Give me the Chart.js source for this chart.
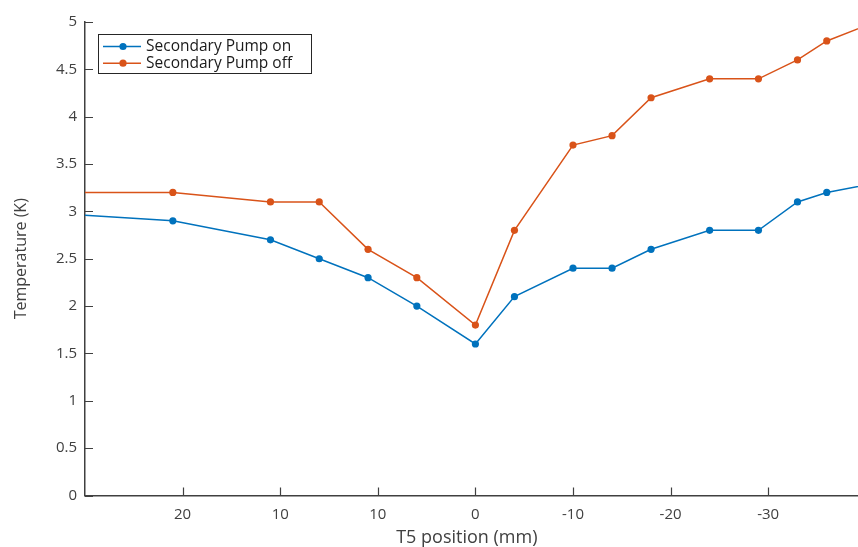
<!DOCTYPE html>
<html>
<head>
<meta charset="utf-8">
<script src="https://cdn.jsdelivr.net/npm/chart.js@4/dist/chart.umd.min.js"></script>
<style>
  html, body { margin: 0; padding: 0; background: #fff; overflow: hidden; }
  #wrap { width: 858px; height: 547px; overflow: hidden; }
</style>
</head>
<body>
<div id="wrap"><canvas id="chart" width="858" height="560"></canvas></div>
<script>
// DATA (outer points sit just outside the visible range, lines run to the edges)
const positions = [46.5, 31, 21, 16, 11, 6, 0, -4, -10, -14, -18, -24, -29, -33, -36, -41];
const pumpOn = [3.0, 2.9, 2.7, 2.5, 2.3, 2.0, 1.6, 2.1, 2.4, 2.4, 2.6, 2.8, 2.8, 3.1, 3.2, 3.3];
const pumpOff = [3.2, 3.2, 3.1, 3.1, 2.6, 2.3, 1.8, 2.8, 3.7, 3.8, 4.2, 4.4, 4.4, 4.6, 4.8, 5.0];
const xTicks = [30, 20, 10, 0, -10, -20, -30];
const xTickLabels = ["20", "10", "10", "0", "-10", "-20", "-30"];
const seriesNames = ["Secondary Pump on", "Secondary Pump off"];

const FONT = "'Open Sans', sans-serif";
const AXIS = "#404040";

const toPoints = (ys) => positions.map((x, i) => ({ x: x, y: ys[i] }));

// short ticks pointing into the plot, matlab style
const innerTicks = {
  id: "innerTicks",
  afterDraw(chart) {
    const c = chart.ctx;
    const xs = chart.scales.x, ys = chart.scales.y;
    c.save();
    c.strokeStyle = AXIS;
    c.lineWidth = 1.2;
    c.beginPath();
    xs.ticks.forEach((t) => {
      const px = Math.round(xs.getPixelForValue(t.value)) + 0.5;
      c.moveTo(px, ys.bottom);
      c.lineTo(px, ys.bottom - 8);
    });
    ys.ticks.forEach((t) => {
      const py = Math.round(ys.getPixelForValue(t.value)) + 0.5;
      c.moveTo(xs.left, py);
      c.lineTo(xs.left + 8, py);
    });
    c.stroke();
    c.restore();
  }
};

// boxed legend in the upper left corner
const boxLegend = {
  id: "boxLegend",
  afterDraw(chart) {
    const c = chart.ctx;
    const x0 = 98, y0 = 34.5, w = 213, h = 39;
    c.save();
    c.fillStyle = "#fff";
    c.fillRect(x0, y0, w, h);
    c.strokeStyle = "#262626";
    c.lineWidth = 1;
    c.strokeRect(x0 + 0.5, y0, w, h);
    c.font = "15.5px " + FONT;
    c.textBaseline = "middle";
    chart.data.datasets.forEach((ds, i) => {
      const y = y0 + 12 + i * 16.7;
      c.strokeStyle = ds.borderColor;
      c.lineWidth = 1.5;
      c.beginPath();
      c.moveTo(x0 + 5, y);
      c.lineTo(x0 + 43, y);
      c.stroke();
      c.fillStyle = ds.borderColor;
      c.beginPath();
      c.arc(x0 + 25, y, 3.6, 0, Math.PI * 2);
      c.fill();
      c.fillStyle = "#1a1a1a";
      c.fillText(ds.label, x0 + 48, y + 0.5);
    });
    c.restore();
  }
};

const ctx = document.getElementById("chart").getContext("2d");

const chart = new Chart(ctx, {
  type: "line",
  data: {
    datasets: [
      {
        label: seriesNames[0],
        data: toPoints(pumpOn),
        borderColor: "#0072BD",
        backgroundColor: "#0072BD",
        borderWidth: 1.5,
        pointRadius: 3.6,
        pointBorderWidth: 0,
        tension: 0
      },
      {
        label: seriesNames[1],
        data: toPoints(pumpOff),
        borderColor: "#D95319",
        backgroundColor: "#D95319",
        borderWidth: 1.5,
        pointRadius: 3.6,
        pointBorderWidth: 0,
        tension: 0
      }
    ]
  },
  options: {
    responsive: false,
    animation: false,
    layout: { autoPadding: false, padding: { top: 22, right: 0, left: 0, bottom: 0 } },
    plugins: { legend: { display: false }, tooltip: { enabled: false } },
    scales: {
      x: {
        type: "linear",
        reverse: true,
        min: -39.2,
        max: 40,
        afterBuildTicks: (s) => { s.ticks = xTicks.map((v) => ({ value: v })); },
        afterFit: (s) => { s.height = 64.5; s.paddingLeft = 0; s.paddingRight = 0; },
        grid: { drawOnChartArea: false, drawTicks: false },
        border: { color: AXIS, width: 1.5 },
        ticks: {
          autoSkip: false,
          maxRotation: 0,
          padding: 10,
          color: AXIS,
          font: { family: FONT, size: 15 },
          callback: (v) => xTickLabels[xTicks.indexOf(v)]
        },
        title: {
          display: true,
          text: "T5 position (mm)  ",
          color: AXIS,
          font: { family: FONT, size: 18 },
          padding: { top: 11, bottom: 11 }
        }
      },
      y: {
        min: 0,
        max: 5,
        afterFit: (s) => { s.width = 85; s.paddingTop = 0; s.paddingBottom = 0; },
        grid: { drawOnChartArea: false, drawTicks: false },
        border: { color: AXIS, width: 1.5 },
        ticks: {
          stepSize: 0.5,
          padding: 8,
          color: AXIS,
          font: { family: FONT, size: 15 },
          callback: (v) => String(v)
        },
        title: {
          display: true,
          text: "Temperature (K)",
          color: AXIS,
          font: { family: FONT, size: 16 },
          padding: { top: 12, bottom: 4 }
        }
      }
    }
  },
  plugins: [innerTicks, boxLegend]
});
</script>
</body>
</html>
